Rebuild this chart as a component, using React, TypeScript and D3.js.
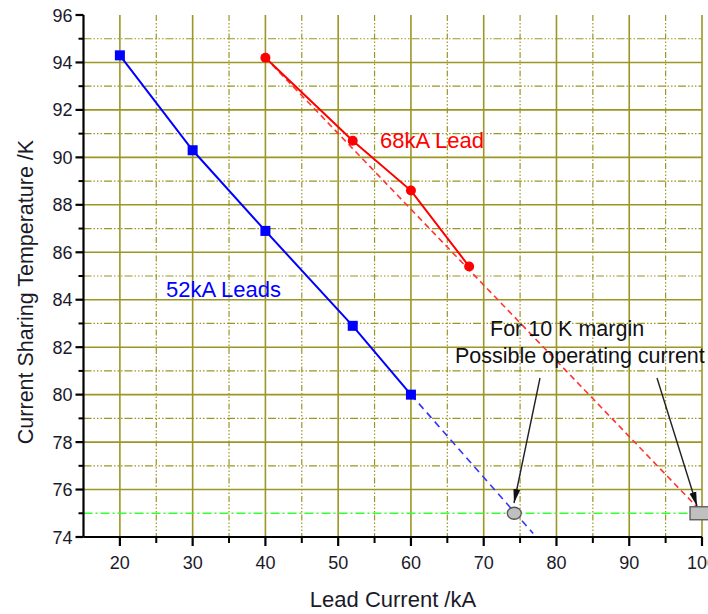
import React from 'react';
import * as d3 from 'd3';

// 52kA leads: measured points
const lead52Current = [20, 30, 40, 52, 60];
const lead52Temp = [94.3, 90.3, 86.9, 82.9, 80.0];
// 52kA extrapolation
const lead52ExtCurrent = [60, 76.8];
const lead52ExtTemp = [80.0, 74.15];

// 68kA lead: measured points
const lead68Current = [40, 52, 60, 68];
const lead68Temp = [94.2, 90.7, 88.6, 85.4];
// 68kA linear extrapolation
const lead68ExtCurrent = [40, 99.5];
const lead68ExtTemp = [94.2, 75.2];

// 10 K margin line and operating points
const marginTemp = 75;
const opCurrent52 = 74.2;
const opCurrent68 = 100;

const xMajorTicks = [20, 30, 40, 50, 60, 70, 80, 90, 100];
const xMinorTicks = [25, 35, 45, 55, 65, 75, 85, 95];
const yMajorTicks = [74, 76, 78, 80, 82, 84, 86, 88, 90, 92, 94, 96];
const yMinorTicks = [75, 77, 79, 81, 83, 85, 87, 89, 91, 93, 95];

const W = 708;
const H = 614;
const grid = '#9c9625';
const font = '"Liberation Sans", Arial, sans-serif';

const App = () => {
  const x = d3.scaleLinear().domain([15, 100]).range([83.5, 702]);
  const y = d3.scaleLinear().domain([74, 96]).range([537, 15]);
  const left = x(15);
  const right = x(100);
  const top = y(96);
  const bottom = y(74);

  const zip = (a: number[], b: number[]) => a.map((v, i) => [v, b[i]] as [number, number]);
  const line = d3.line<[number, number]>().x(d => x(d[0])).y(d => y(d[1]));

  const pts52 = zip(lead52Current, lead52Temp);
  const pts68 = zip(lead68Current, lead68Temp);

  return (
    <svg width={W} height={H} style={{ position: 'absolute', left: 0, top: 0, background: '#fff' }}
      fontFamily={font}>
      <defs>
        <marker id="arrow" viewBox="0 -5 14 10" refX="14" refY="0" markerWidth="14" markerHeight="10"
          markerUnits="userSpaceOnUse" orient="auto">
          <path d="M0,-3.5L14,0L0,3.5Z" fill="#111" />
        </marker>
      </defs>

      {/* minor grid */}
      {xMinorTicks.map(t => (
        <line key={'xm' + t} x1={x(t)} x2={x(t)} y1={top} y2={bottom} stroke={grid}
          strokeWidth={1.2} strokeDasharray="6 2 1.5 2 1.5 2 1.5 2" />
      ))}
      {yMinorTicks.filter(t => t !== marginTemp).map(t => (
        <line key={'ym' + t} x1={left} x2={right} y1={y(t)} y2={y(t)} stroke={grid}
          strokeWidth={1.2} strokeDasharray="8 2 1.5 2 1.5 2 1.5 2" />
      ))}
      {/* major grid */}
      {xMajorTicks.map(t => (
        <line key={'xg' + t} x1={x(t)} x2={x(t)} y1={top} y2={bottom} stroke={grid} strokeWidth={1.6} />
      ))}
      {yMajorTicks.filter(t => t !== 74 && t !== 96).map(t => (
        <line key={'yg' + t} x1={left} x2={right} y1={y(t)} y2={y(t)} stroke={grid} strokeWidth={1.6} />
      ))}

      {/* 10 K margin line */}
      <line x1={left} x2={right} y1={y(marginTemp)} y2={y(marginTemp)} stroke="#33ff33"
        strokeWidth={1.3} strokeDasharray="9 3 2 3" />

      {/* extrapolations */}
      <path d={line(zip(lead52ExtCurrent, lead52ExtTemp)) || ''} fill="none" stroke="#3333ff"
        strokeWidth={1.6} strokeDasharray="7 5" />
      <path d={line(zip(lead68ExtCurrent, lead68ExtTemp)) || ''} fill="none" stroke="#ff3333"
        strokeWidth={1.6} strokeDasharray="6 4" />

      {/* measured lines */}
      <path d={line(pts52) || ''} fill="none" stroke="#0000ff" strokeWidth={2} />
      <path d={line(pts68) || ''} fill="none" stroke="#ff0000" strokeWidth={2} />
      {pts52.map((d, i) => (
        <rect key={'s' + i} x={x(d[0]) - 5} y={y(d[1]) - 5} width={10} height={10} fill="#0000ff" />
      ))}
      {pts68.map((d, i) => (
        <circle key={'c' + i} cx={x(d[0])} cy={y(d[1])} r={5} fill="#ff0000" />
      ))}

      {/* operating points */}
      <ellipse cx={x(opCurrent52)} cy={y(marginTemp)} rx={7} ry={6} fill="#c0c0c0" stroke="#555" strokeWidth={1.3} />
      <rect x={x(opCurrent68) - 12} y={y(marginTemp) - 6.5} width={24} height={13} fill="#c0c0c0"
        stroke="#555" strokeWidth={1.3} />

      {/* axes */}
      <line x1={left} x2={right} y1={bottom} y2={bottom} stroke="#000" strokeWidth={2.2} />
      <line x1={left} x2={left} y1={top} y2={bottom} stroke="#000" strokeWidth={2.2} />
      {xMajorTicks.map(t => (
        <line key={'xt' + t} x1={x(t)} x2={x(t)} y1={bottom} y2={bottom + 9} stroke="#000" strokeWidth={2.2} />
      ))}
      {xMinorTicks.map(t => (
        <line key={'xmt' + t} x1={x(t)} x2={x(t)} y1={bottom} y2={bottom + 6} stroke="#000" strokeWidth={2} />
      ))}
      {yMajorTicks.map(t => (
        <line key={'yt' + t} x1={left - 8} x2={left} y1={y(t)} y2={y(t)} stroke="#000" strokeWidth={2.2} />
      ))}
      {yMinorTicks.map(t => (
        <line key={'ymt' + t} x1={left - 5} x2={left} y1={y(t)} y2={y(t)} stroke="#000" strokeWidth={2} />
      ))}
      {xMajorTicks.map(t => (
        <text key={'xl' + t} x={x(t)} y={bottom + 32} textAnchor="middle" fontSize={18} fill="#1a1a2a">{t}</text>
      ))}
      {yMajorTicks.map(t => (
        <text key={'yl' + t} x={left - 11} y={y(t) + 6.5} textAnchor="end" fontSize={18} fill="#1a1a2a">{t}</text>
      ))}

      {/* axis titles */}
      <text x={393} y={607} textAnchor="middle" fontSize={22} fill="#1a1a2a">Lead Current /kA</text>
      <text transform={`translate(33, ${292}) rotate(-90)`} textAnchor="middle" fontSize={21.5} fill="#1a1a2a">
        Current Sharing Temperature /K
      </text>

      {/* labels */}
      <text x={380} y={148} fontSize={22} fill="#ff0000">68kA Lead</text>
      <text x={166} y={297} fontSize={22} fill="#0000ff">52kA Leads</text>
      <text x={490} y={336} fontSize={21.5} fill="#111">For 10 K margin</text>
      <text x={455} y={363} fontSize={21.5} fill="#111">Possible operating current</text>

      {/* arrows */}
      <line x1={540} y1={378} x2={514} y2={503} stroke="#222" strokeWidth={1.4} markerEnd="url(#arrow)" />
      <line x1={657} y1={378} x2={697} y2={506} stroke="#222" strokeWidth={1.4} markerEnd="url(#arrow)" />
    </svg>
  );
};

export default App;
